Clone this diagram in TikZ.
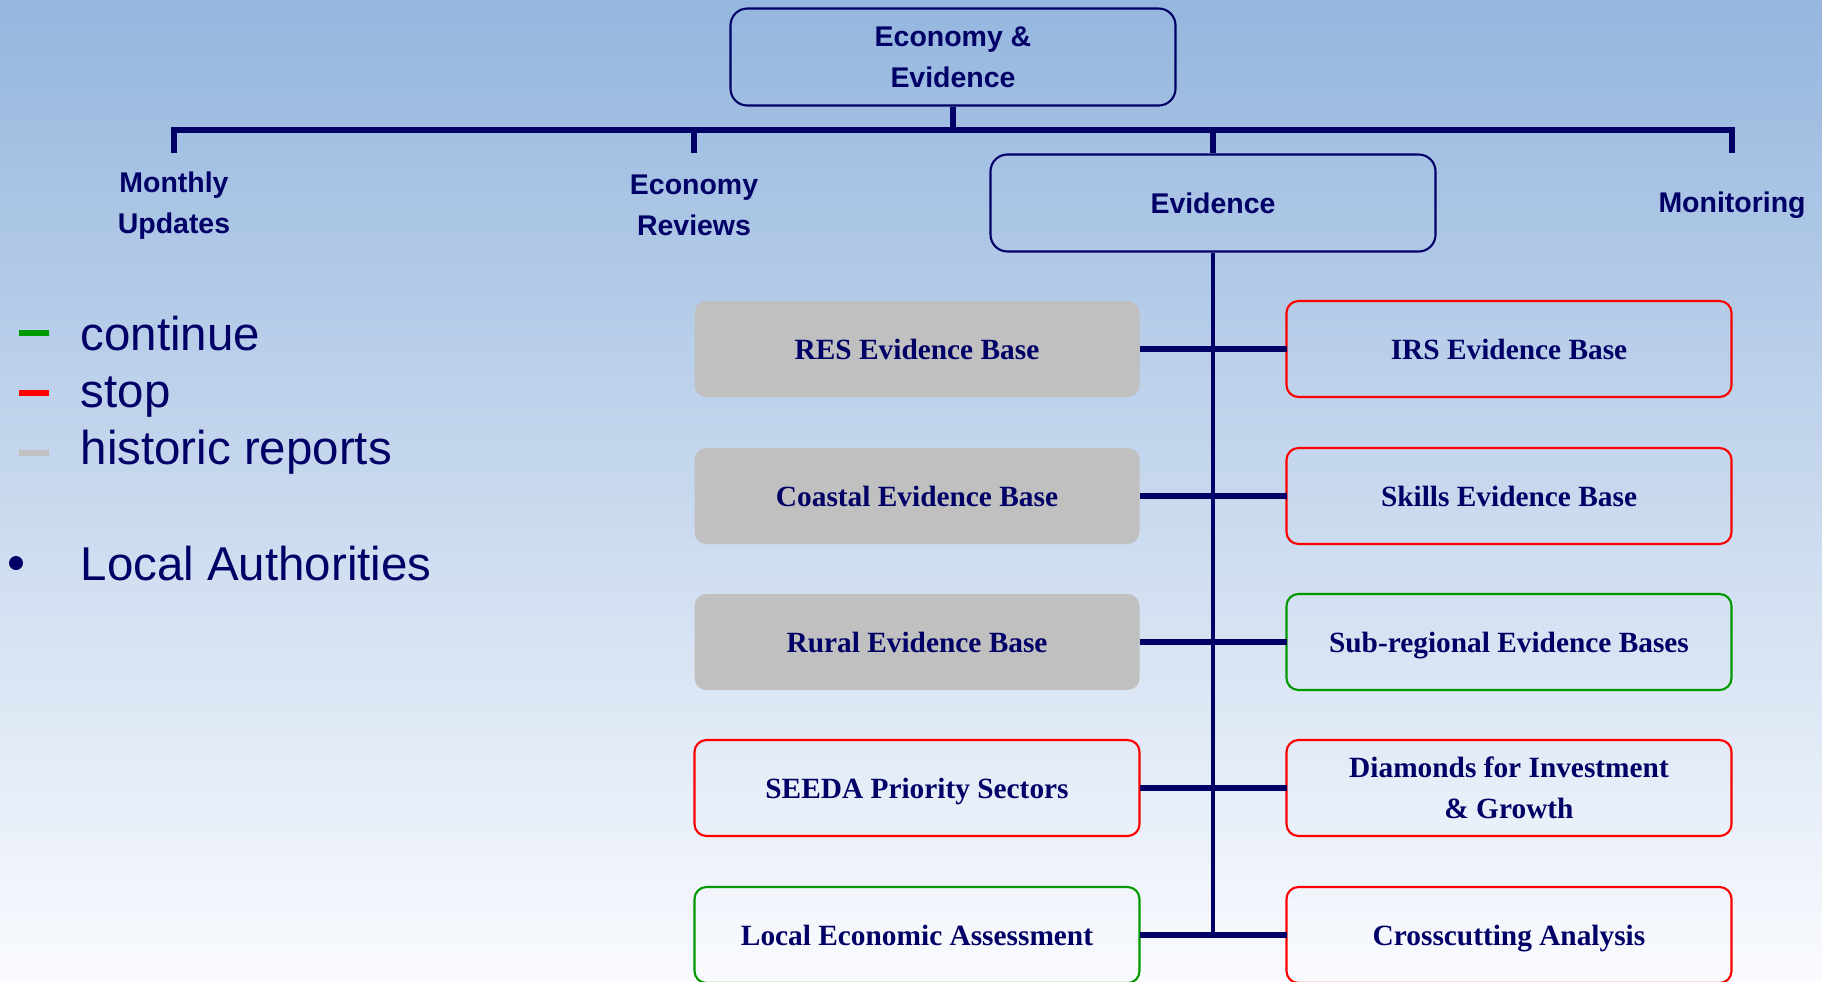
\documentclass[tikz,border=0pt]{standalone}
\usepackage{fontspec}
\setmainfont{Liberation Serif}
\setsansfont{Liberation Sans}
\usetikzlibrary{calc,positioning}
\definecolor{navy}{RGB}{0,0,102}
\definecolor{bgtop}{RGB}{149,182,222}
\definecolor{bgbot}{RGB}{250,251,254}
\definecolor{okgreen}{RGB}{0,153,0}
\definecolor{histgray}{RGB}{192,192,192}
\tikzset{
  busline/.style={draw=navy, line width=1.45pt},
  spine/.style={draw=navy, line width=1.15pt},
  orgbox/.style={draw=navy, rounded corners=4.8pt, line width=0.6pt, minimum width=4.45cm, minimum height=0.97cm, align=center, text=navy, font=\sffamily\bfseries\fontsize{8.1}{11.7}\selectfont},
  evbox/.style={rounded corners=3.4pt, line width=0.6pt, outer sep=0pt, minimum width=4.45cm, minimum height=0.96cm, text height=0.78em, text depth=0.16em, align=center, text=navy, font=\bfseries\fontsize{8.35}{11.55}\selectfont},
}

\begin{document}
\begin{tikzpicture}[
  gone/.style={evbox, fill=histgray},
  stopped/.style={evbox, draw=red},
  kept/.style={evbox, draw=okgreen},
  head/.style={text=navy, align=center, font=\sffamily\bfseries\fontsize{8.1}{11.7}\selectfont},
  keytext/.style={text=navy, anchor=base west, inner sep=0pt, font=\sffamily\fontsize{13.5}{16}\selectfont},
  keydash/.style={line width=1.7pt},
]
  \clip (0,0) rectangle (18.22,-9.81);
  \shade[top color=bgtop, bottom color=bgbot] (0,0) rectangle (18.22,-9.81);

  % top level
  \node[orgbox] (top) at (9.53,-0.57) {Economy \&\\Evidence};
  \node[head] (mu) at (1.74,-2.06) {Monthly\\Updates};
  \node[head] (er) at (6.94,-2.05) {Economy\\Reviews};
  \node[orgbox] (ev) at (12.13,-2.03) {Evidence};
  \node[head] (mon) at (17.32,-2.05) {Monitoring};

  \coordinate (bus) at (9.53,-1.30);
  \draw[busline] (top.south) -- (bus);
  \draw[busline] ($(mu |- bus)+(0,-0.23)$) |- (mon |- bus) -- ++(0,-0.23);
  \draw[busline] (er |- bus) -- ++(0,-0.23);
  \draw[busline] (ev.north |- bus) -- (ev.north);

  % evidence bases
  \node[gone] (l1) at (9.17,-3.49) {RES Evidence Base};
  \node[gone] (l2) at (9.17,-4.96) {Coastal Evidence Base};
  \node[gone] (l3) at (9.17,-6.42) {Rural Evidence Base};
  \node[stopped] (l4) at (9.17,-7.88) {SEEDA Priority Sectors};
  \node[kept] (l5) at (9.17,-9.35) {Local Economic Assessment};
  \node[stopped] (r1) at (15.09,-3.49) {IRS Evidence Base};
  \node[stopped] (r2) at (15.09,-4.96) {Skills Evidence Base};
  \node[kept] (r3) at (15.09,-6.42) {Sub-regional Evidence Bases};
  \node[stopped, text height=, text depth=] (r4) at (15.09,-7.88) {Diamonds for Investment\\\& Growth};
  \node[stopped] (r5) at (15.09,-9.35) {Crosscutting Analysis};

  \draw[spine] (ev.south) -- (ev.south |- r5);
  \foreach \i in {1,...,5}
    \draw[spine, line width=1.5pt] (l\i.east) -- (r\i.west);

  % key
  \node[keytext] (kc) at (0.80,-3.50) {continue};
  \node[keytext] (ks) at (0.80,-4.07) {stop};
  \node[keytext] (kh) at (0.80,-4.64) {historic reports};
  \node[keytext] (la) at (0.80,-5.80) {Local Authorities};
  \draw[keydash, okgreen] (0.19,-3.33) -- (0.49,-3.33);
  \draw[keydash, red] (0.19,-3.93) -- (0.49,-3.93);
  \draw[keydash, histgray] (0.19,-4.53) -- (0.49,-4.53);
  \fill[navy] (0.16,-5.63) circle (0.07);
\end{tikzpicture}
\end{document}
